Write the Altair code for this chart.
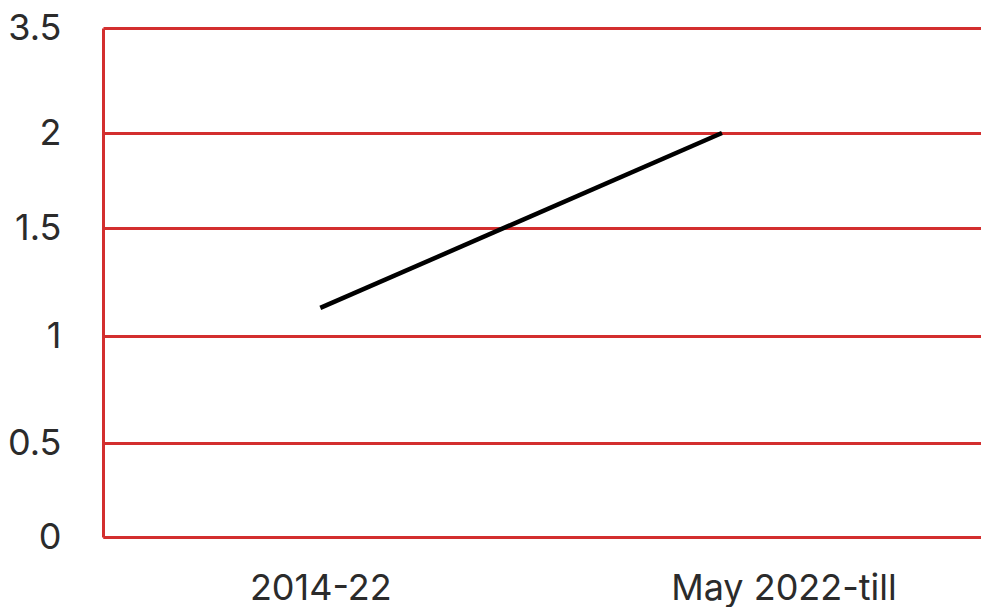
import altair as alt
import pandas as pd

# Data
categories = ["2014-22", "May 2022-till"]
values = [1.13, 2.0]
# position of each point along the horizontal axis (axis units)
x_points = [0.99, 2.82]
# horizontal axis label anchors (axis units)
x_label_pos = [0.99, 3.10]
y_ticks = [0, 0.5, 1, 1.5, 2, 3.5]
y_tick_range = [509, 415, 308, 200, 105, 0]

df = pd.DataFrame({"period": categories, "x": x_points, "value": values})

RED = "#d32f2f"
FONT = "Inter"

label_expr = "datum.value < 2 ? '" + categories[0] + "' : '" + categories[1] + "'"

chart = (
    alt.Chart(df)
    .mark_line(color="black", strokeWidth=4.5)
    .encode(
        x=alt.X(
            "x:Q",
            scale=alt.Scale(domain=[0, 4], nice=False, zero=False),
            axis=alt.Axis(
                values=x_label_pos,
                labelExpr=label_expr,
                title=None,
                grid=False,
                ticks=False,
                domain=True,
                domainColor=RED,
                domainWidth=3,
                labelFont=FONT,
                labelFontSize=36,
                labelColor="#2b2b2b",
                labelPadding=34,
                labelBaseline="top",
                labelLimit=0,
                labelOverlap=False,
            ),
        ),
        y=alt.Y(
            "value:Q",
            scale=alt.Scale(domain=y_ticks, range=y_tick_range, nice=False, zero=False),
            axis=alt.Axis(
                values=y_ticks,
                format="~g",
                title=None,
                grid=True,
                gridColor=RED,
                gridWidth=3,
                gridOpacity=1,
                ticks=False,
                domain=True,
                domainColor=RED,
                domainWidth=3,
                labelFont=FONT,
                labelFontSize=36,
                labelColor="#2b2b2b",
                labelPadding=42,
                labelBaseline="middle",
                labelAlign="right",
                labelOverlap=False,
            ),
        ),
    )
    .properties(
        width=878,
        height=509,
        autosize=alt.AutoSizeParams(type="none"),
        padding={"left": 95, "top": 20, "right": 0, "bottom": 70},
    )
    .configure_view(stroke=None)
)

chart.save("out.html", embed_options={"renderer": "svg", "actions": False})
